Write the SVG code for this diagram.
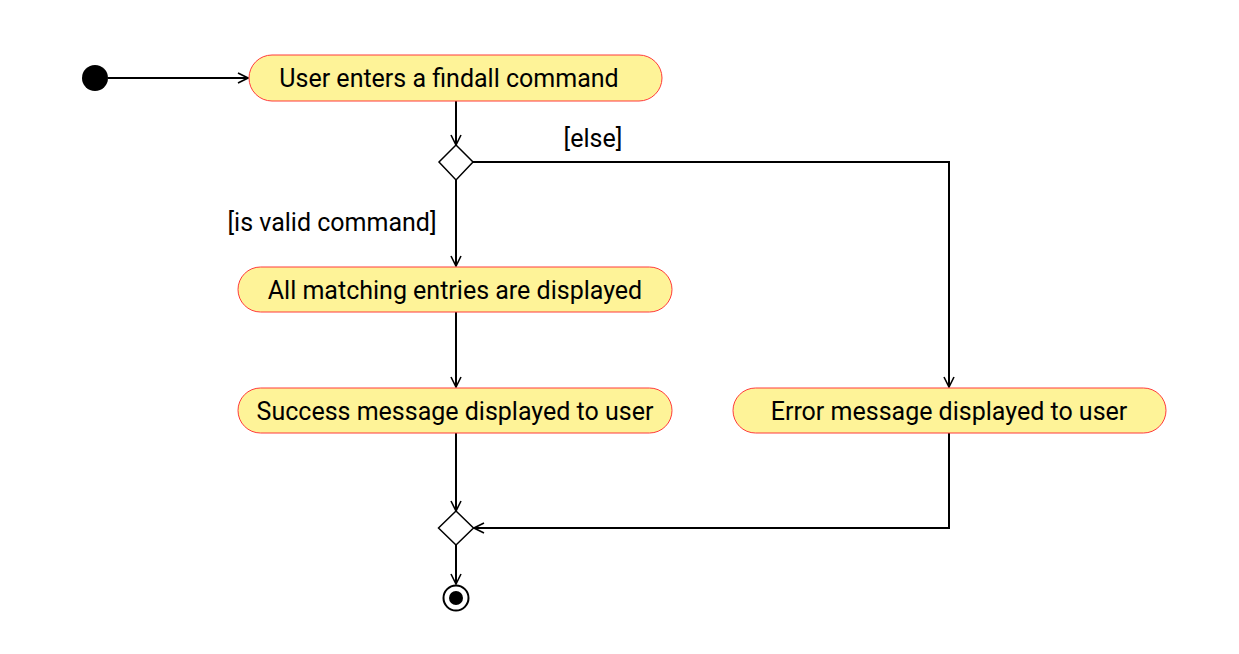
<svg xmlns="http://www.w3.org/2000/svg" width="1239" height="654" viewBox="0 0 1239 654">
<style>
.act{fill:#fef398;stroke:#ff3b3b;stroke-width:1}
.lbl{font-family:Roboto,"Liberation Sans",sans-serif;font-size:25px;fill:#000;text-anchor:middle}
.ln{fill:none;stroke:#000;stroke-width:2}
.dia{fill:#fff;stroke:#000;stroke-width:1.5}
</style>
<defs>
<marker id="arr" viewBox="0 0 12 12" refX="11" refY="6" markerWidth="12" markerHeight="12" markerUnits="userSpaceOnUse" orient="auto">
<path d="M1,1 L11,6 L1,11" fill="none" stroke="#000" stroke-width="1.6"/>
</marker>
</defs>
<rect width="1239" height="654" fill="#fff"/>
<g id="connectors">
<line class="ln" x1="108" y1="78" x2="248" y2="78" marker-end="url(#arr)"/>
<line class="ln" x1="456" y1="101" x2="456" y2="145" marker-end="url(#arr)"/>
<polyline class="ln" points="473,162 949,162 949,387" marker-end="url(#arr)"/>
<line class="ln" x1="456" y1="180" x2="456" y2="266" marker-end="url(#arr)"/>
<line class="ln" x1="456" y1="312" x2="456" y2="387" marker-end="url(#arr)"/>
<line class="ln" x1="456" y1="433" x2="456" y2="511" marker-end="url(#arr)"/>
<polyline class="ln" points="949,433 949,528 474,528" marker-end="url(#arr)"/>
<line class="ln" x1="456" y1="545" x2="456" y2="584" marker-end="url(#arr)"/>
<text class="lbl" x="593" y="147">[else]</text>
<text class="lbl" x="332" y="231">[is valid command]</text>
</g>
<g id="start"><circle cx="95" cy="78" r="13" fill="#000"/></g>
<g id="n1"><rect class="act" x="249" y="55" width="413" height="46" rx="23"/><text class="lbl" x="449" y="87">User enters a findall command</text></g>
<g id="d1"><polygon class="dia" points="456,145 473,162 456,180 439,162"/></g>
<g id="n2"><rect class="act" x="238" y="267" width="434" height="45" rx="22.5"/><text class="lbl" x="455" y="299">All matching entries are displayed</text></g>
<g id="n3"><rect class="act" x="238" y="388" width="434" height="45" rx="22.5"/><text class="lbl" x="455" y="420">Success message displayed to user</text></g>
<g id="n4"><rect class="act" x="733" y="388" width="433" height="45" rx="22.5"/><text class="lbl" x="949" y="420">Error message displayed to user</text></g>
<g id="d2"><polygon class="dia" points="456,511 473.5,528 456,545 438.5,528"/></g>
<g id="end"><circle cx="456" cy="598" r="12.5" fill="#fff" stroke="#000" stroke-width="2"/><circle cx="456" cy="598" r="7" fill="#000"/></g>
</svg>
